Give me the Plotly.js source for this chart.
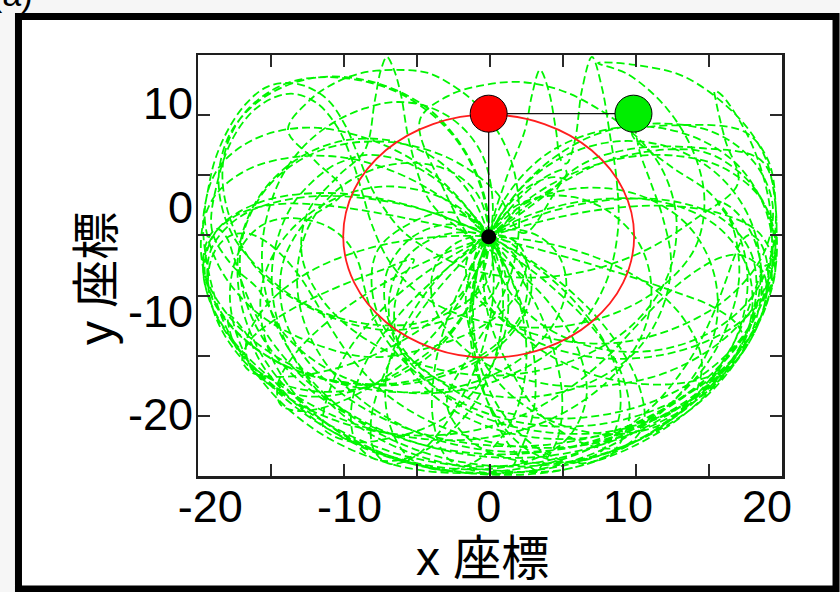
<!DOCTYPE html>
<html>
<head>
<meta charset="utf-8">
<script src="https://cdn.plot.ly/plotly-3.0.1.min.js"></script>
<style>
  html, body { margin: 0; padding: 0; background: #f6f6f6; }
  #chart { width: 840px; height: 592px; }
</style>
</head>
<body>
<div id="chart"></div>
<script>
// Axis labels (data units)
const xTickLabels = [-20, -10, 0, 10, 20];
const yTickLabels = [-20, -10, 0, 10];

// Pendulum in its drawn configuration
const pivotXY = [0, -2.85];
const bob1XY = [0, 9.0];
const bob2XY = [10.4, 9.0];

// Path of the first bob (red ring)
const orbitX = [0, 4.0, 7.39, 9.66, 10.45, 9.66, 7.39, 4.0, 0, -4.0, -7.39, -9.66, -10.45, -9.66, -7.39, -4.0, 0];
const orbitY = [8.9, 8.0, 5.47, 1.68, -2.8, -7.28, -11.07, -13.6, -14.5, -13.6, -11.07, -7.28, -2.8, 1.68, 5.47, 8.0, 8.9];

// Path traced by the second bob (green dashed trail)
const trailXY = [
  [10.4,9.0],[10.8,5.58],[11.6,2.52],[12.5,-0.97],[13.1,-5.34],[12.4,-9.99],[10.3,-14.26],[6.2,-17.46],[0.6,-18.24],[-4.7,-15.72],
  [-7.2,-10.87],[-7.3,-6.21],[-5.4,-2.81],[-2.5,-1.65],[0,-2.81],[1.0,-5.53],[0,-8.83],[-3.0,-10.87],[-7.4,-11.84],[-12.4,-9.99],
  [-16.6,-6.02],[-18.8,-0.1],[-19.0,4.95],[-17.5,9.12],[-14.5,11.93],[-10.6,12.46],[-6.4,10.96],[-2.8,7.27],[-0.6,2.04],[0,-3.78],
  [-1.4,-9.51],[-4.2,-14.26],[-8.1,-17.07],[-12.4,-17.75],[-15.9,-16.39],[-18.2,-13.39],[-18.7,-10.38],[-17.6,-11.84],[-16.0,-15.72],[-12.7,-20.27],
  [-7.9,-23.77],[-1.8,-25.51],[4.5,-25.12],[10.4,-22.6],[15.2,-18.24],[18.1,-13.29],[19.2,-8.54],[18.8,-4.27],[16.8,-1.17],[13.6,0.48],
  [9.5,0.78],[4.8,-0.29],[0,-2.81],[-4.4,-6.21],[-7.9,-10.19],[-10.3,-14.26],[-11.5,-17.95],[-11.9,-20.18],[-11.8,-21.44],[-9.8,-22.6],
  [-7.3,-22.31],[-3.5,-20.57],[-0.5,-16.78],[1.2,-11.93],[1.2,-6.5],[-0.5,-1.94],[-3.5,0.97],[-7.5,1.99],[-11.4,0.58],[-14.6,-2.81],
  [-16.3,-7.66],[-15.9,-13.39],[-13.3,-18.92],[-8.6,-23.28],[-2.7,-25.46],[3.6,-25.27],[9.3,-22.6],[13.7,-18.04],[16.2,-12.22],[16.2,-6.5],
  [14.3,-1.75],[10.8,1.16],[6.6,1.84],[2.7,0.39],[-0.2,-3.2],[-1.6,-7.96],[-1.1,-12.9],[1.1,-17.46],[4.6,-20.66],[8.6,-21.87],
  [12.2,-21.05],[14.6,-18.53],[15.3,-14.75],[13.8,-10.38],[10.4,-6.55],[5.3,-3.83],[-0.9,-2.77],[-7.1,-3.49],[-12.3,-5.82],[-15.8,-9.22],
  [-17.4,-12.9],[-17.1,-15.42],[-15.5,-17.27],[-12.9,-18.24],[-9.8,-17.75],[-6.6,-16.01],[-2.9,-12.22],[-0.6,-7.08],[0,-1.26],[-1.3,4.46],
  [-4.1,9.21],[-8.0,11.93],[-12.2,12.51],[-15.9,10.77],[-18.5,7.27],[-19.4,2.52],[-18.5,-2.43],[-15.9,-6.69],[-12.8,-9.6],[-9.0,-11.2],
  [-5.0,-11.16],[-1.9,-9.41],[0,-6.89],[0.2,-3.69],[-0.8,-1.55],[-2.9,-0.49],[-5.2,-1.26],[-7.9,-3.98],[-8.4,-7.66],[-7.4,-11.84],
  [-4.3,-16.01],[0.7,-19.6],[6.8,-20.27],[13.0,-18.04],[17.8,-13.19],[20.2,-6.89],[20.1,-1.17],[18.2,3.59],[15.5,6.3],[12.1,7.66],
  [8.5,7.47],[4.3,5.24],[1.2,0.87],[-0.3,-4.61],[0,-10.57],[1.8,-16.2],[3.8,-20.08],[6.9,-22.8],[9.6,-23.09],[11.1,-21.05],
  [10.8,-17.22],[8.7,-12.13],[4.9,-6.99],[-0.3,-2.62],[-6.25,0.34],[-11.9,1.36],[-16.6,0.39],[-19.55,-2.28],[-20.4,-6.21],[-19.0,-10.57],
  [-16.0,-14.26],[-11.9,-16.49],[-7.2,-17.02],[-2.95,-15.81],[0.4,-13.39],[2.4,-10.19],[2.7,-6.69],[1.4,-3.98],[-0.8,-2.52],[-3.6,-2.81],
  [-5.9,-4.85],[-7.1,-8.34],[-6.8,-12.61],[-4.5,-16.59],[-1.0,-19.89],[3.8,-21.63],[8.8,-21.58],[13.5,-19.4],[17.0,-15.62],[18.8,-10.96],
  [18.6,-5.92],[16.4,-1.84],[12.5,0.48],[7.4,0.68],[2.2,-1.17],[-2.3,-5.05],[-5.5,-10.19],[-7.3,-15.81],[-7.15,-20.76],[-5.7,-24.15],
  [-3.2,-25.37],[-0.5,-24.11],[1.7,-20.47],[2.7,-15.04],[2.1,-8.73],[-0.3,-2.28],[-3.9,3.1],[-8.3,6.4],[-13.0,7.66],[-16.9,6.5],
  [-19.5,3.59],[-20.4,-0.78],[-19.4,-5.63],[-16.8,-9.99],[-13.0,-12.9],[-8.5,-14.45],[-3.9,-13.39],[-0.7,-11.64],[1.4,-9.51],[2.4,-7.28],
  [2.7,-5.34],[2.3,-3.83],[1.3,-2.86],[0,-2.81],[-1.0,-3.69],[-1.6,-5.29],[-1.4,-7.57],[0,-9.8],[2.3,-11.74],[5.5,-12.9],
  [9.35,-13.05],[13.6,-11.54],[17.4,-8.49],[19.8,-4.32],[20.4,0.19],[19.1,4.27],[16.2,7.18],[12.1,8.05],[7.5,6.89],[3.4,3.35],
  [0.4,-1.84],[-1.2,-8.15],[-1.1,-14.55],[0.4,-19.89],[2.9,-23.48],[5.8,-24.59],[8.2,-23.38],[9.4,-19.98],[9.05,-15.13],[6.7,-9.9],
  [2.6,-4.95],[-2.7,-1.17],[-8.4,0.78],[-13.8,0.87],[-17.8,-0.87],[-19.95,-4.12],[-20.0,-8.25],[-18.0,-12.22],[-14.5,-15.38],[-10.0,-17.02],
  [-5.35,-16.93],[-1.35,-15.23],[1.5,-12.42],[2.95,-9.02],[2.9,-5.92],[1.85,-3.74],[-0.2,-2.77],[-2.25,-3.4],[-3.8,-5.53],[-4.1,-8.54],
  [-3.0,-11.84],[-0.4,-14.94],[3.5,-16.88],[8.1,-17.22],[12.8,-15.91],[16.85,-12.76],[19.6,-8.44],[20.6,-3.59],[19.55,0.82],[16.7,3.88],
  [13.4,4.95],[9.7,4.75],[5.8,3.1],[2.3,0.19],[-0.5,-3.69],[-3.5,2.5],[-4.94,8.39],[-2.78,10.8],[-0.27,11.76],[2.25,12.05],
  [5.12,11.28],[8.0,9.35],[10.87,6.46],[12.66,3.09],[13.5,-1.5],[12.8,-6.8],[10.2,-11.5],[6.0,-14.8],[1.0,-16.2],[-4.0,-15.5],
  [-8.5,-13.0],[-11.8,-9.2],[-13.4,-4.8],[-13.0,-0.5],[-10.8,3.0],[-8.89,5.5],[-8.17,10.32],[-7.74,13.21],[-7.31,14.46],[-6.8,13.21],
  [-6.3,10.8],[-5.65,5.98],[-4.2,0.5],[-1.8,-2.4],[1.5,-5.5],[4.5,-9.5],[6.5,-14.0],[7.0,-18.5],[5.5,-22.5],[2.0,-24.8],
  [-2.5,-25.2],[-7.5,-23.8],[-12.0,-21.0],[-15.8,-17.0],[-18.5,-12.5],[-19.9,-7.5],[-20.52,-1.72],[-20.16,1.65],[-19.66,4.54],[-18.73,7.43],
  [-17.51,9.84],[-16.07,11.48],[-14.64,11.96],[-13.2,11.67],[-11.55,10.32],[-10.32,7.91],[-9.39,5.02],[-8.53,2.13],[-7.67,0.19],[-6.2,-2.3],
  [-3.8,-4.5],[-0.8,-6.2],[3.2,-6.8],[7.5,-6.0],[11.5,-4.0],[15.0,-1.0],[17.91,2.31],[16.99,6.46],[16.31,10.32],[16.23,11.19],
  [16.73,10.8],[18.2,7.91],[19.35,4.54],[20.2,0],[20.3,-4.5],[19.5,-9.5],[17.5,-14.0],[14.2,-18.0],[9.8,-21.2],[4.8,-22.8],
  [-0.5,-22.9],[-5.5,-21.5],[-10.0,-18.5],[-13.2,-14.5],[-14.8,-10.0],[-14.8,-5.5],[-13.2,-1.5],[-10.5,1.5],[-12.5,4.5],[-14.42,7.43],
  [-12.84,10.32],[-11.04,11.96],[-9.1,12.92],[-6.73,13.21],[-4.36,12.92],[-2.42,11.57],[-1.2,10.32],[0.09,8.39],[1.17,5.98],[1.89,3.09],
  [2.2,-1.0],[1.8,-5.5],[0.5,-10.0],[-1.5,-14.5],[-3.0,-19.0],[-1.0,-22.8],[3.0,-24.6],[7.8,-24.0],[12.0,-21.5],[15.5,-17.5],
  [17.8,-12.5],[18.6,-7.5],[18.0,-2.8],[16.0,1.2],[13.0,4.0],[10.29,7.13],[14.1,7.91],[18.41,7.23],[20.06,4.54],[20.6,0.5],
  [20.4,-4.0],[19.0,-8.5],[16.0,-12.0],[12.0,-13.8],[7.5,-13.5],[3.5,-11.0],[1.0,-7.0],[0.2,-2.5],[1.2,2.5],[2.61,7.43],
  [3.11,10.8],[3.69,13.21],[4.33,11.09],[4.83,7.43],[5.2,4.5],[5.6,4.2],[6.2,6.46],[6.7,11.28],[7.42,14.46],[8.14,11.47],
  [8.71,6.95],[9.2,2.5],[9.3,-2.0],[8.5,-7.0],[6.5,-11.5],[3.0,-15.2],[-1.5,-17.5],[-6.5,-17.8],[-11.0,-16.0],[-14.5,-12.5],
  [-16.5,-8.0],[-18.5,-5.5],[-19.88,-2.21],[-19.45,2.61],[-18.44,6.46],[-17.0,9.16],[-15.35,10.6],[-13.91,10.9],[-12.26,9.93],[-10.83,7.61],
  [-9.82,4.54],[-9.03,1.17],[-8.38,-1.72],[-7.0,-5.5],[-4.5,-8.8],[-0.5,-11.0],[4.0,-11.6],[8.5,-10.5],[12.3,-7.8],[14.8,-4.0],
  [15.5,0.5],[14.8,5.0],[12.8,9.5],[10.0,12.8],[7.85,13.88],[10.51,13.69],[14.1,12.53],[17.91,8.67],[19.85,4.82],[20.56,0.68],
  [20.64,-3.17],[20.0,-8.0],[18.0,-13.0],[14.8,-17.5],[10.5,-21.0],[5.5,-23.2],[0.2,-23.8],[-5.0,-22.8],[-9.8,-20.2],[-13.8,-16.5],
  [-16.5,-12.0],[-17.8,-7.0],[-17.5,-2.0],[-15.5,2.5],[-12.0,5.5],[-7.5,6.3],[-3.0,4.8],[0.5,1.5],[2.5,-2.5],[6.0,3.5],
  [9.79,5.5],[15.19,5.69],[19.7,4.34],[20.7,-2.85],[20.29,-7.89],[18.41,-13.13],[15.15,-17.86],[10.66,-21.59],[5.36,-23.76],[-0.17,-24.05],
  [-5.54,-22.56],[-9.91,-19.94],[-13.38,-16.35],[-15.9,-12.32],[-17.44,-8.27],[-18.26,-5.0],[-18.86,-2.85],[-19.53,-2.09],[-20.33,-3.65],[-20.41,-7.29],
  [-18.91,-11.84],[-15.74,-16.37],[-11.17,-20.08],[-5.92,-22.12],[-0.46,-22.27],[4.62,-20.33],[8.54,-16.78],[10.97,-12.45],[11.69,-7.88],[10.85,-3.6],
  [8.71,-0.5],[6.04,0.98],[3.31,0.86],[1.09,-0.74],[-0.2,-3.63],[-0.17,-7.09],[1.23,-10.7],[3.87,-13.85],[7.37,-16.07],[11.22,-17.06],
  [14.77,-16.74],[17.4,-15.26],[18.39,-13.34],[17.87,-11.35],[16.06,-9.57],[13.24,-8.1],[9.71,-6.49],[5.64,-4.84],[1.22,-3.25],[-3.31,-1.82],
  [-7.71,-0.62],[-11.63,0.15],[-15.08,0.29],[-17.81,-0.58],[-19.66,-2.47],[-20.48,-5.26],[-20.13,-8.68],[-18.62,-12.57],[-16.32,-16.13],[-13.31,-19.41],
  [-9.89,-22.05],[-6.11,-23.93],[-2.07,-24.89],[2.24,-24.81],[6.4,-23.68],[10.36,-21.42],[13.56,-18.31],[15.9,-14.64],[17.33,-10.7],[17.97,-7.13],
  [17.89,-4.07],[17.41,-1.49],[16.44,0.56],[17.47,-0.1],[18.93,-2.67],[19.63,-7.13],[18.71,-12.62],[15.7,-18.14],[10.58,-22.57],[4.52,-24.78],
  [-1.87,-24.57],[-7.61,-21.98],[-11.87,-17.89],[-14.62,-13.08],[-16.03,-8.18],[-16.26,-3.64],[-15.69,0.24],[-14.65,3.46],[-13.08,6.13],[-11.12,8.16],
  [-8.92,9.5],[-6.68,10.12],[-4.27,9.63],[-2.03,7.85],[-0.36,4.72],[0.3,-0.44],[-0.35,-4.43],[-2.17,-9.21],[-4.86,-13.54],[-7.97,-16.87],
  [-11.02,-18.94],[-13.5,-19.65],[-14.95,-19.03],[-15.15,-17.09],[-13.95,-14.21],[-11.34,-10.79],[-7.47,-7.3],[-2.64,-4.17],[2.72,-1.74],[8.13,-0.23],
  [12.96,0.11],[16.83,-0.7],[19.41,-2.47],[20.56,-5.68],[20.23,-7.67],[18.36,-10.75],[15.28,-13.14],[11.49,-14.44],[7.52,-14.46],[3.94,-13.25],
  [1.16,-11.1],[-0.53,-8.45],[-1.08,-5.86],[-0.68,-3.8],[0.46,-2.51],[2.09,-2.18],[3.79,-2.96],[5.09,-4.81],[5.58,-7.48],[4.97,-10.52],
  [3.28,-13.53],[0.51,-16.03],[-3.16,-17.57],[-7.37,-17.75],[-11.66,-16.61],[-15.54,-14.16],[-18.59,-10.63],[-20.39,-6.47],[-20.6,-2.24],[-19.69,1.04],
  [-17.46,3.51],[-14.28,4.77],[-10.5,4.79],[-6.48,3.24],[-2.61,0.23],[0.65,-3.83],[3.13,-8.69],[4.68,-13.84],[5.29,-18.68],[4.88,-22.58],
  [3.69,-25.12],[3.56,-25.45],[1.76,-23.42],[0.13,-19.47],[-0.98,-14.27],[-1.12,-8.55],[-0.06,-3.05],[2.27,1.74],[5.57,5.0],[9.44,6.35],
  [13.34,5.61],[16.68,2.86],[18.89,-1.56],[19.52,-7.1],[18.31,-13.07],[15.16,-18.68],[10.4,-23.03],[4.66,-25.47],[-2.12,-25.52],[-7.85,-23.57],
  [-12.55,-19.9],[-15.99,-14.93],[-17.78,-9.32],[-17.9,-3.73],[-16.46,1.07],[-13.85,4.54],[-10.53,6.37],[-7.06,6.41],[-3.9,4.71],[-1.45,1.5],
  [0,-2.85],[0.35,-7.88],[-0.32,-13.06],[-1.76,-17.86],[-3.58,-21.74],[-5.46,-24.15],[-7.11,-24.73],[-8.21,-23.5],[-8.46,-20.66],[-7.65,-16.57],
  [-5.74,-11.7],[-2.78,-6.56],[1.01,-1.68],[5.2,2.3],[9.41,4.81],[15.12,5.42],[18.03,3.33],[19.94,-0.11],[20.63,-5.28],[19.98,-9.27],
  [17.97,-14.0],[14.69,-18.2],[10.36,-21.42],[5.23,-23.31],[0,-23.43],[-4.86,-21.85],[-8.91,-18.83],[-11.84,-14.8],[-13.45,-10.2],[-13.71,-5.56],
  [-12.73,-1.35],[-10.68,1.87],[-7.98,3.77],[-5.12,4.23],[-2.57,3.33],[-0.75,1.1],[0,-2.65],[-0.45,-5.23],[-2.12,-8.6],[-4.85,-11.72],
  [-8.24,-14.25],[-11.77,-15.81],[-14.88,-16.35],[-17.0,-15.94],[-17.7,-14.76],[-17.16,-12.86],[-15.44,-10.92],[-13.06,-9.06],[-10.39,-7.44],[-7.76,-6.1],
  [-5.38,-5.04],[-6.16,-6.83],[-6.77,-9.69],[-6.49,-13.24],[-5.01,-16.74],[-2.38,-19.68],[1.17,-21.65],[5.32,-22.34],[9.65,-21.56],[13.7,-19.31],
  [17.0,-15.94],[19.0,-12.33],[19.87,-9.02],[19.87,-6.78],[19.27,-5.5],[18.12,-4.62],[16.74,-4.82],[15.22,-5.86],[13.57,-7.49],[12.02,-9.41],
  [10.45,-11.67],[8.59,-14.32],[5.99,-17.25],[2.31,-20.11],[-2.53,-21.84],[-7.84,-21.66],[-12.91,-19.48],[-16.98,-15.68],[-19.35,-11.39],[-20.16,-7.24],
  [-19.73,-4.39],[-18.7,-2.85],[-17.44,-2.51],[-16.17,-3.17],[-14.88,-4.6],[-13.66,-6.53],[-12.56,-8.82],[-11.36,-11.59],[-9.66,-14.88],[-6.95,-18.46],
  [-2.92,-21.41],[2.21,-23.08],[7.71,-22.73],[12.87,-20.33],[16.74,-16.48],[19.07,-12.13],[20.01,-8.02],[19.95,-5.01],[19.41,-3.23],[18.78,-2.66],
  [18.19,-3.21],[17.66,-4.75],[16.99,-7.25],[16.06,-10.49],[14.4,-14.79],[11.34,-19.72],[6.58,-23.68],[0.71,-25.45],[-5.54,-25.2],[-11.18,-22.5],
  [-15.3,-18.28],[-17.7,-13.62],[-18.57,-9.21],[-18.29,-5.55],[-17.44,-3.19],[-16.25,-1.73],[-14.88,-1.1],[-13.43,-1.14],[-11.88,-1.68],[-10.71,-2.64],
  [-9.88,-3.91],[-9.3,-5.54],[-8.95,-7.63],[-8.32,-10.41],[-7.0,-13.46],[-4.69,-16.54],[-1.29,-19.26],[3.29,-20.96],[8.36,-20.84],[13.25,-18.76],
  [16.93,-15.41],[19.24,-11.56],[20.19,-8.28],[20.28,-6.04],[19.94,-5.59],[19.48,-6.7],[18.8,-9.29],[17.59,-13.11],[15.32,-17.5],[11.45,-21.87],
  [5.9,-25.15],[0.35,-25.35],[-5.2,-23.88],[-9.91,-20.61],[-13.28,-16.01],[-15.12,-11.12],[-15.58,-6.56],[-15.09,-2.71],[-14.03,0.35],[-12.66,2.45],
  [-11.31,3.88],[-10.07,4.61],[-9.1,4.98],[-7.73,4.95],[-5.99,4.35],[-3.95,2.83],[-1.77,0.21],[0.34,-3.57],[2.1,-8.4],[3.21,-13.93],
  [3.26,-19.35],[2.26,-23.46],[1.24,-25.56],[-2.86,-24.29],[-3.97,-20.66],[-3.92,-15.99],[-3.05,-11.09],[-1.59,-6.49],[0.09,-2.67],[1.77,0.21],
  [3.31,2.15],[4.57,3.26],[5.48,3.61],[5.6,3.21],[4.78,1.96],[3.0,0.07],[0.28,-2.59],[-3.05,-5.99],[-6.33,-10.2],[-8.76,-14.77],
  [-9.86,-19.23],[-9.56,-22.58],[-8.13,-24.29],[-5.82,-24.16],[-3.19,-22.17],[-0.86,-18.56],[0.53,-14.13],[1.03,-9.76],[0.8,-5.97],[0.07,-3.04],
  [-0.88,-1.08],[-1.45,-0.52],[-1.4,-0.98],[-0.51,-2.27],[1.57,-4.54],[4.29,-7.4],[7.22,-11.23],[9.43,-15.67],[10.1,-20.27],[8.86,-23.65],
  [6.33,-24.68],[3.53,-23.23],[0.93,-19.72],[-0.66,-15.0],[-1.12,-9.94],[-0.67,-5.38],[0.42,-1.72],[1.86,0.85],[3.37,2.35],[4.69,2.89],
  [5.62,2.63]
];

const FONT = 'Liberation Sans, Arial, "Noto Sans CJK JP", sans-serif';

const traces = [
  // anchor trace for the frame/tick subplot
  { x: [], y: [], xaxis: 'x', yaxis: 'y', type: 'scatter', mode: 'lines', showlegend: false, hoverinfo: 'skip' },
  {
    x: trailXY.map(p => p[0]), y: trailXY.map(p => p[1]),
    xaxis: 'x2', yaxis: 'y2', type: 'scatter', mode: 'lines',
    line: { color: 'rgb(0,245,0)', width: 1.8, dash: '8px,4px', shape: 'spline', smoothing: 1 },
    showlegend: false, hoverinfo: 'skip'
  },
  {
    x: orbitX, y: orbitY, xaxis: 'x2', yaxis: 'y2', type: 'scatter', mode: 'lines',
    line: { color: 'rgb(255,30,30)', width: 1.8, shape: 'spline', smoothing: 1 },
    showlegend: false, hoverinfo: 'skip'
  },
  {
    x: [pivotXY[0], bob1XY[0], bob2XY[0]], y: [pivotXY[1], bob1XY[1], bob2XY[1]],
    xaxis: 'x2', yaxis: 'y2', type: 'scatter', mode: 'lines',
    line: { color: '#111', width: 1.3 }, showlegend: false, hoverinfo: 'skip'
  },
  {
    x: [bob1XY[0], bob2XY[0]], y: [bob1XY[1], bob2XY[1]],
    xaxis: 'x2', yaxis: 'y2', type: 'scatter', mode: 'markers',
    marker: { size: 37, color: ['#ff0000', '#00ee00'], line: { color: '#000', width: 1 } },
    showlegend: false, hoverinfo: 'skip'
  },
  {
    x: [pivotXY[0]], y: [pivotXY[1]],
    xaxis: 'x2', yaxis: 'y2', type: 'scatter', mode: 'markers',
    marker: { size: 15, color: '#000' }, showlegend: false, hoverinfo: 'skip'
  }
];

const frameAxis = {
  showline: true, linecolor: '#1e1e1e', linewidth: 2.5, mirror: 'allticks',
  ticks: 'inside', ticklen: 12, tickwidth: 2, tickcolor: '#2a2a2a',
  showticklabels: false, showgrid: false, zeroline: false, dtick: 1, tick0: 0, fixedrange: true
};

const layout = {
  width: 840, height: 592,
  margin: { l: 198, r: 58, t: 55, b: 116 },
  paper_bgcolor: '#f6f6f6', plot_bgcolor: '#ffffff',
  showlegend: false,
  xaxis: Object.assign({}, frameAxis, { range: [0, 8] }),
  yaxis: Object.assign({}, frameAxis, { range: [0, 7] }),
  xaxis2: {
    overlaying: 'x', anchor: 'y2', side: 'bottom', range: [-20.88, 21.07],
    tickvals: xTickLabels, ticktext: xTickLabels.map(String), ticks: '',
    showline: false, showgrid: false, zeroline: false, fixedrange: true,
    tickfont: { family: FONT, size: 45, color: '#000' }
  },
  yaxis2: {
    overlaying: 'y', anchor: 'x2', side: 'left', range: [-25.9, 14.65],
    tickvals: yTickLabels, ticktext: yTickLabels.map(String), ticks: '',
    showline: false, showgrid: false, zeroline: false, fixedrange: true,
    ticklabelstandoff: 4,
    tickfont: { family: FONT, size: 45, color: '#000' }
  },
  shapes: [
    {
      type: 'rect', xref: 'paper', yref: 'paper', layer: 'below',
      x0: -0.3074, x1: 1.0925, y0: -0.2684, y1: 1.0914,
      line: { color: '#000', width: 7 }, fillcolor: '#ffffff'
    }
  ],
  annotations: [
    {
      text: 'x 座標', xref: 'paper', yref: 'paper', x: 0.488, y: -0.197,
      xanchor: 'center', yanchor: 'middle', showarrow: false,
      font: { family: FONT, size: 48, color: '#000' }
    },
    {
      text: 'y 座標', xref: 'paper', yref: 'paper', x: -0.1747, y: 0.4703, textangle: -90,
      xanchor: 'center', yanchor: 'middle', showarrow: false,
      font: { family: FONT, size: 48, color: '#000' }
    },
    {
      text: '(a)', xref: 'paper', yref: 'paper', x: -0.3185, y: 1.1449,
      xanchor: 'center', yanchor: 'middle', showarrow: false,
      font: { family: FONT, size: 34, color: '#000' }
    }
  ]
};

Plotly.newPlot('chart', traces, layout, { staticPlot: true, displayModeBar: false });
</script>
</body>
</html>
